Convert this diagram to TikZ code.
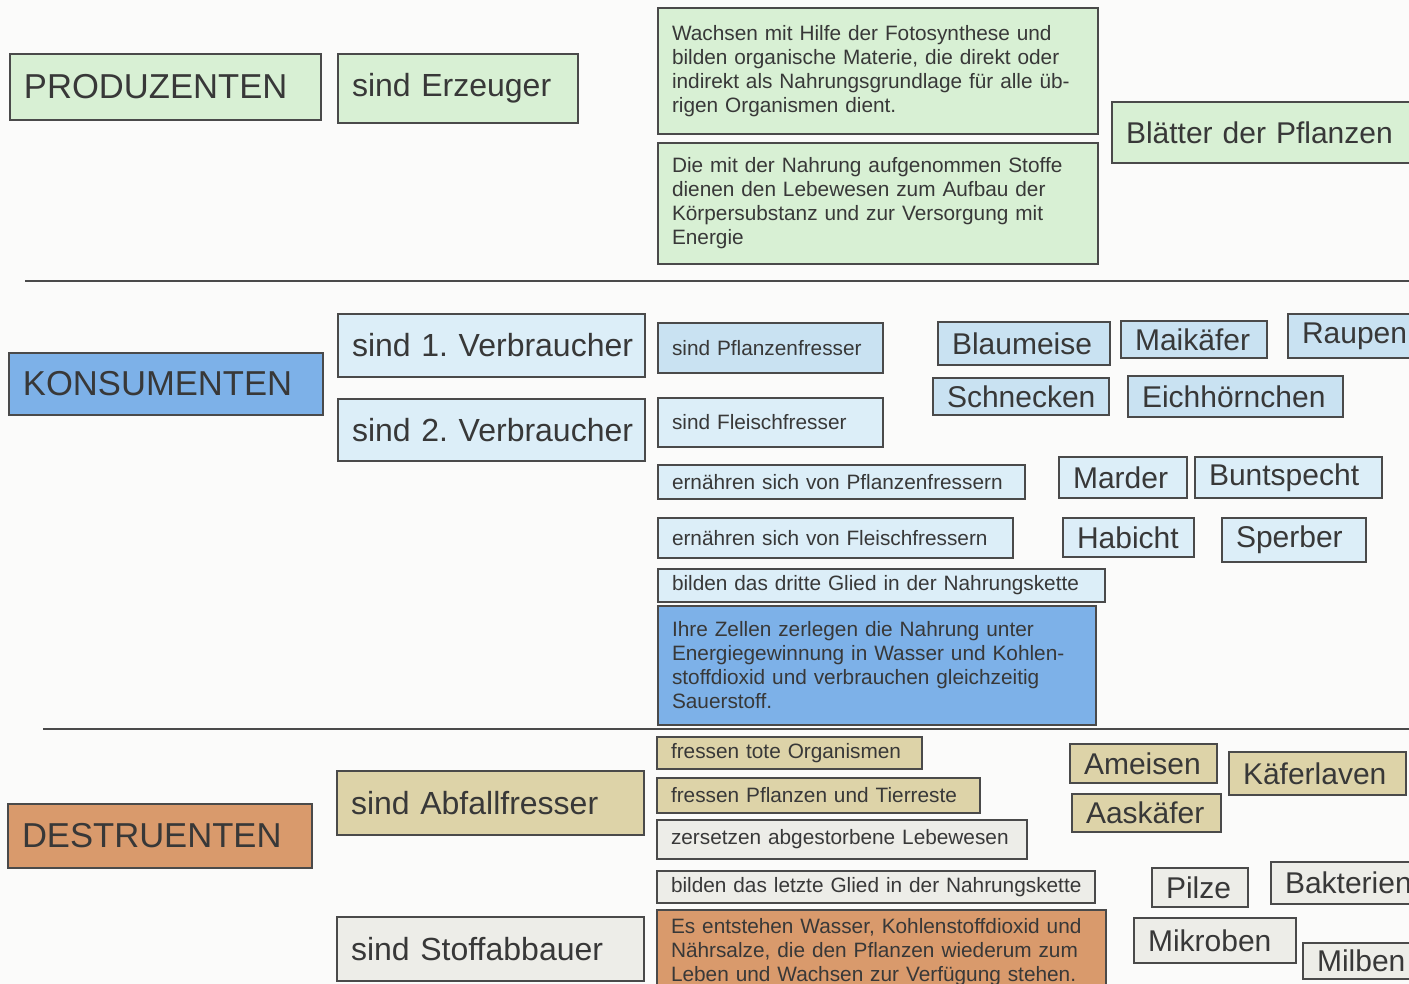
\documentclass[tikz,border=0pt]{standalone}
\usepackage{fontspec}
\setmainfont{Liberation Sans}
\definecolor{gruen}{HTML}{D8F0D4}
\definecolor{hellblau}{HTML}{DCEEF8}
\definecolor{tierblau}{HTML}{C9E2F2}
\definecolor{blau}{HTML}{7DB1E8}
\definecolor{sand}{HTML}{DDD3A8}
\definecolor{rostbraun}{HTML}{D99A6C}
\definecolor{grau}{HTML}{EDEDE8}
\definecolor{rahmen}{HTML}{4A4A4A}
\definecolor{schrift}{HTML}{383838}
\definecolor{papier}{HTML}{FBFBFA}
\hyphenpenalty=10000
\frenchspacing
\begin{document}
\begin{tikzpicture}[x=0.5pt, y=-0.5pt,
    kasten/.style 2 args={draw=rahmen, line width=1pt, text=schrift, anchor=north west,
      inner xsep=7pt, inner ysep=0pt, align=left,
      minimum width=(#1)*0.5pt, minimum height=(#2)*0.5pt, text width=(#1-28)*0.5pt},
    einzeilig/.style={execute at begin node=\hbox\bgroup, execute at end node=\egroup},
    gross/.style={einzeilig, font=\fontsize{17.3pt}{20pt}\selectfont},
    mittel/.style={einzeilig, font=\fontsize{16pt}{19pt}\selectfont},
    tier/.style={einzeilig, font=\fontsize{15pt}{18pt}\selectfont},
    klein/.style={font=\fontsize{10.4pt}{12pt}\selectfont}]
   \useasboundingbox (0,0) rectangle (1409,984);
   \clip (0,0) rectangle (1409,984);
   \fill[papier] (0,0) rectangle (1409,984);
   % Trennlinien
   \coordinate (links1) at (25,281);
   \coordinate (rechts1) at (1409,281);
   \coordinate (links2) at (43,729);
   \coordinate (rechts2) at (1409,729);
   \draw[rahmen, line width=1pt] (links1) -- (rechts1);
   \draw[rahmen, line width=1pt] (links2) -- (rechts2);
   % Produzenten
   \node[kasten={311}{66}, fill=gruen, gross] (prod) at (9,53) {PRODUZENTEN};
   \node[kasten={240}{69}, fill=gruen, mittel] (erzeuger) at (337,53) {sind Erzeuger};
   \node[kasten={440}{126}, fill=gruen, klein] (foto) at (657,7)
     {Wachsen mit Hilfe der Fotosynthese und\\ bilden organische Materie, die direkt oder\\ indirekt als Nahrungsgrundlage für alle üb-\\ rigen Organismen dient.};
   \node[kasten={440}{121}, fill=gruen, klein] (stoffe) at (657,142)
     {Die mit der Nahrung aufgenommen Stoffe\\ dienen den Lebewesen zum Aufbau der\\ Körpersubstanz und zur Versorgung mit\\ Energie};
   \node[kasten={314}{61}, fill=gruen, tier] (blaetter) at (1111,101) {Blätter der Pflanzen};
   % Konsumenten
   \node[kasten={314}{62}, fill=blau, gross] (kons) at (8,352) {KONSUMENTEN};
   \node[kasten={307}{63}, fill=hellblau, mittel] (verb1) at (337,313) {sind 1. Verbraucher};
   \node[kasten={307}{62}, fill=hellblau, mittel] (verb2) at (337,398) {sind 2. Verbraucher};
   \node[kasten={225}{50}, fill=tierblau, klein, einzeilig] (pflfr) at (657,322) {sind Pflanzenfresser};
   \node[kasten={225}{49}, fill=hellblau, klein, einzeilig] (fleischfr) at (657,397) {sind Fleischfresser};
   \node[kasten={367}{34}, fill=hellblau, klein, einzeilig] (vonpfl) at (657,464) {ernähren sich von Pflanzenfressern};
   \node[kasten={355}{40}, fill=hellblau, klein, einzeilig] (vonfl) at (657,517) {ernähren sich von Fleischfressern};
   \node[kasten={447}{33}, fill=hellblau, klein, einzeilig] (dritte) at (657,568) {bilden das dritte Glied in der Nahrungskette};
   \node[kasten={438}{119}, fill=blau, klein] (zellen) at (657,605)
     {Ihre Zellen zerlegen die Nahrung unter\\ Energiegewinnung in Wasser und Kohlen-\\ stoffdioxid und verbrauchen gleichzeitig\\ Sauerstoff.};
   \node[kasten={172}{43}, fill=tierblau, tier] (blaumeise) at (937,321) {Blaumeise};
   \node[kasten={146}{37}, fill=tierblau, tier] (maikaefer) at (1120,320) {Maikäfer};
   \node[kasten={134}{44}, fill=tierblau, tier] (raupen) at (1287,313) {Raupen};
   \node[kasten={176}{37}, fill=tierblau, tier] (schnecken) at (932,377) {Schnecken};
   \node[kasten={215}{41}, fill=tierblau, tier] (eichhoernchen) at (1127,375) {Eichhörnchen};
   \node[kasten={128}{41}, fill=hellblau, tier] (marder) at (1058,456) {Marder};
   \node[kasten={187}{41}, fill=hellblau, tier] (buntspecht) at (1194,456) {Buntspecht};
   \node[kasten={131}{39}, fill=hellblau, tier] (habicht) at (1062,517) {Habicht};
   \node[kasten={144}{44}, fill=hellblau, tier] (sperber) at (1221,517) {Sperber};
   % Destruenten
   \node[kasten={304}{64}, fill=rostbraun, gross] (destr) at (7,803) {DESTRUENTEN};
   \node[kasten={307}{64}, fill=sand, mittel] (abfall) at (336,770) {sind Abfallfresser};
   \node[kasten={307}{64}, fill=grau, mittel] (abbauer) at (336,916) {sind Stoffabbauer};
   \node[kasten={265}{32}, fill=sand, klein, einzeilig] (tote) at (656,736) {fressen tote Organismen};
   \node[kasten={323}{35}, fill=sand, klein, einzeilig] (reste) at (656,777) {fressen Pflanzen und Tierreste};
   \node[kasten={370}{39}, fill=grau, klein, einzeilig] (zersetzen) at (656,819) {zersetzen abgestorbene Lebewesen};
   \node[kasten={438}{32}, fill=grau, klein, einzeilig] (letzte) at (656,870) {bilden das letzte Glied in der Nahrungskette};
   \node[kasten={449}{84}, fill=rostbraun, klein] (naehrsalze) at (656,909)
     {Es entstehen Wasser, Kohlenstoffdioxid und\\ Nährsalze, die den Pflanzen wiederum zum\\ Leben und Wachsen zur Verfügung stehen.};
   \node[kasten={147}{39}, fill=sand, tier] (ameisen) at (1069,743) {Ameisen};
   \node[kasten={177}{43}, fill=sand, tier] (kaeferlaven) at (1228,751) {Käferlaven};
   \node[kasten={149}{38}, fill=sand, tier] (aaskaefer) at (1071,793) {Aaskäfer};
   \node[kasten={96}{39}, fill=grau, tier] (pilze) at (1151,867) {Pilze};
   \node[kasten={150}{42}, fill=grau, tier] (bakterien) at (1270,861) {Bakterien};
   \node[kasten={162}{45}, fill=grau, tier] (mikroben) at (1133,917) {Mikroben};
   \node[kasten={118}{36}, fill=grau, tier] (milben) at (1302,942) {Milben};
  \end{tikzpicture}
\end{document}
